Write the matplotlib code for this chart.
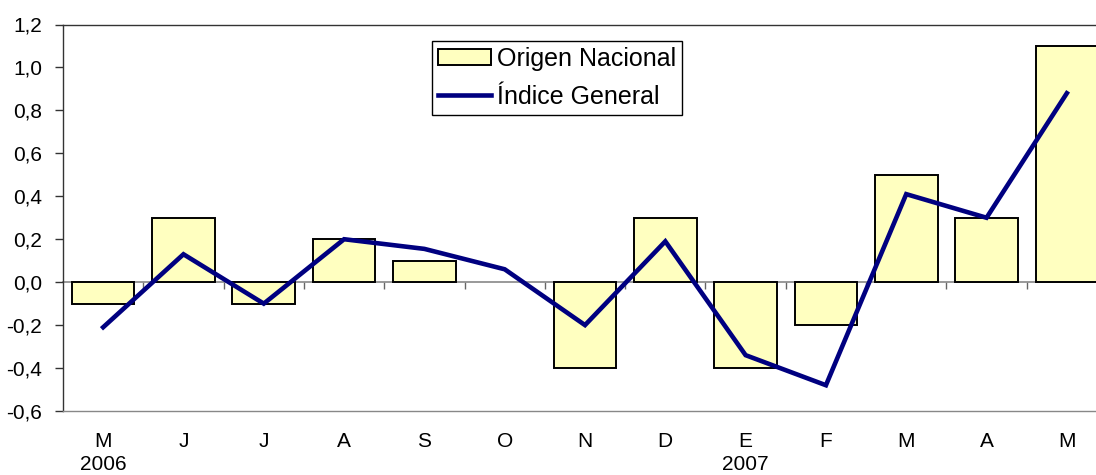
import matplotlib
matplotlib.use("Agg")
import matplotlib.pyplot as plt
import matplotlib.transforms as mtransforms
import numpy as np

MONTHS = ["M", "J", "J", "A", "S", "O", "N", "D", "E", "F", "M", "A", "M"]
YEAR_LABELS = [(0, "2006"), (8, "2007")]
ORIGEN_NACIONAL = [-0.1, 0.3, -0.1, 0.2, 0.1, 0.0, -0.4, 0.3, -0.4, -0.2, 0.5, 0.3, 1.1]
INDICE_GENERAL = [-0.21, 0.13, -0.10, 0.20, 0.155, 0.06, -0.20, 0.19, -0.34, -0.48, 0.41, 0.30, 0.88]
Y_TICKS = [-0.6, -0.4, -0.2, 0.0, 0.2, 0.4, 0.6, 0.8, 1.0, 1.2]
YMIN, YMAX = -0.6, 1.2

plt.rcParams["font.family"] = ["Liberation Sans", "DejaVu Sans"]

W, H = 1096, 475
fig = plt.figure(figsize=(W / 100, H / 100), dpi=100)
# plot area runs past the right edge of the image, as in the original
ax = fig.add_axes([63 / W, (H - 411) / H, 1044 / W, (411 - 24.5) / H])

x = np.arange(len(MONTHS))
edge = ["none" if v == 0 else "black" for v in ORIGEN_NACIONAL]
bars = ax.bar(x, ORIGEN_NACIONAL, width=0.78, color="#FFFFC0", edgecolor=edge,
              linewidth=1.4, label="Origen Nacional", zorder=3)
line, = ax.plot(x, INDICE_GENERAL, color="#000080", linewidth=3.3, label="Índice General",
                zorder=4, solid_joinstyle="miter")

ax.set_xlim(-0.5, len(MONTHS) - 0.5)
ax.set_ylim(YMIN, YMAX)
ax.set_yticks(Y_TICKS, [f"{v:.1f}".replace(".", ",") for v in Y_TICKS])
ax.tick_params(axis="y", labelsize=15, length=6, width=1, color="#333333", pad=9)
ax.set_xticks(x, MONTHS)
ax.tick_params(axis="x", labelsize=15, length=0, pad=15)

ax.spines["right"].set_visible(False)
ax.spines["left"].set_color("#333333")
ax.spines["top"].set_color("#333333")
ax.spines["bottom"].set_color("#888888")
for s in ("left", "top", "bottom"):
    ax.spines[s].set_linewidth(1.0)

# category axis crossing at zero, with tick marks between categories
zero_axis = ax.secondary_xaxis((0 - YMIN) / (YMAX - YMIN))
zero_axis.set_xticks(x[:-1] + 0.5, [""] * (len(MONTHS) - 1))
zero_axis.tick_params(length=5, width=1, color="#666666", direction="out")
zero_axis.spines["bottom"].set_color("#888888")
zero_axis.spines["bottom"].set_linewidth(1.2)

year_tf = mtransforms.offset_copy(ax.transData, fig=fig, x=0, y=-54 * 0.72, units="points")
for idx, year in YEAR_LABELS:
    ax.text(idx, YMIN, year, transform=year_tf, ha="center", va="center", fontsize=15)

leg = ax.legend([bars, line], ["Origen Nacional", "Índice General"],
                loc="upper left", bbox_to_anchor=(432 / W, 1 - 40.5 / H),
                bbox_transform=fig.transFigure, borderaxespad=0, fontsize=18,
                frameon=True, fancybox=False, edgecolor="black", handlelength=2.1,
                handletextpad=0.25, borderpad=0.25, labelspacing=0.55, handleheight=0.65)
leg.get_frame().set_linewidth(1.0)
leg.get_frame().set_alpha(1)

fig.savefig("out.png", dpi=100)
